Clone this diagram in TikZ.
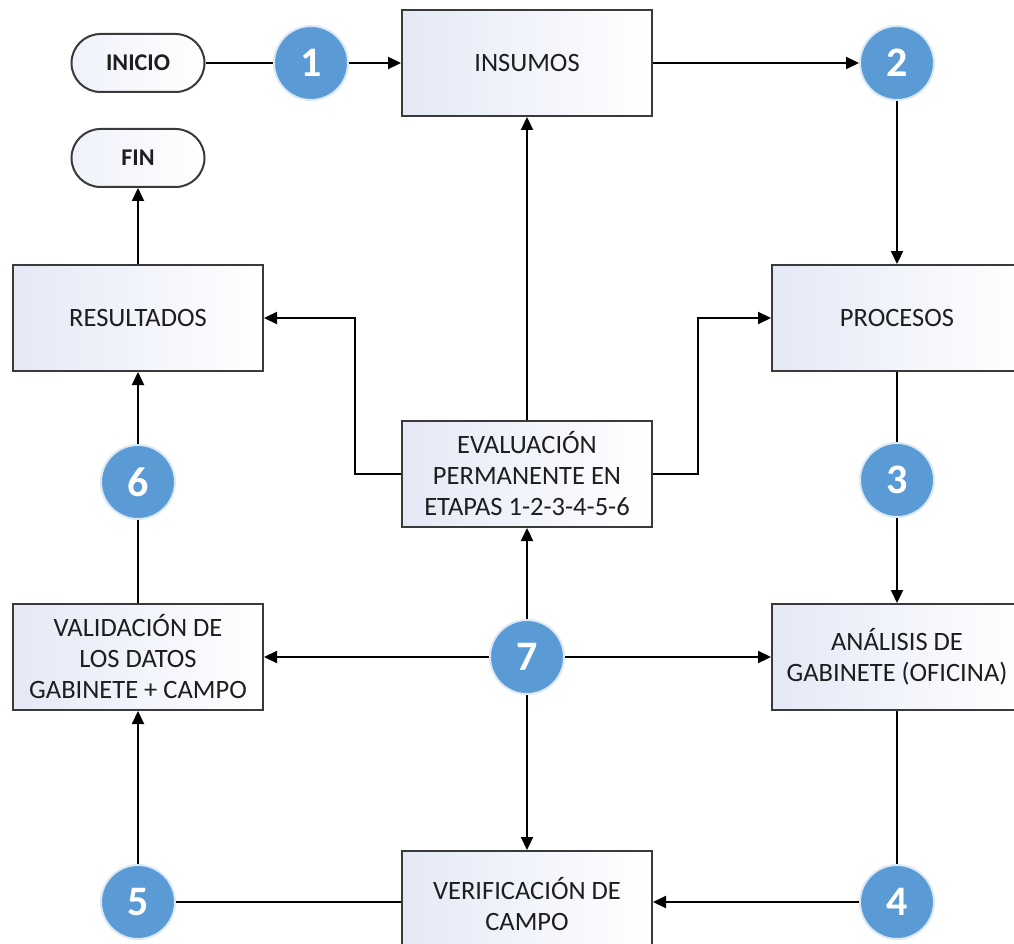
\documentclass[tikz,border=0pt]{standalone}
\usepackage{fontspec}
\setmainfont{Carlito}
\usetikzlibrary{arrows.meta,positioning,calc}
\pgfdeclarelayer{background}
\pgfsetlayers{background,main}
\definecolor{circblue}{HTML}{5B9BD5}
\definecolor{halo}{HTML}{DCE8F5}
\definecolor{boxleft}{HTML}{E4E9F6}
\definecolor{bordergray}{HTML}{3A3A3A}
\definecolor{txt}{HTML}{1E1E1E}
\begin{document}
\begin{tikzpicture}[x=1pt,y=-1pt,
  conn/.style={draw=black, line width=2.2pt},
  arr/.style={conn, -{Triangle[length=13pt,width=12pt]}},
  box/.style={draw=bordergray, line width=2pt, left color=boxleft, right color=white,
    minimum width=250pt, minimum height=106pt, inner sep=0pt, align=center,
    text=txt, font=\fontsize{26.5}{31}\selectfont},
  term/.style={draw=bordergray, line width=2pt, left color=boxleft!60!white, right color=white,
    rounded corners=29pt, minimum width=133pt, minimum height=58pt, inner sep=0pt,
    text=txt, font=\fontsize{24}{28}\selectfont\bfseries},
  num/.style={circle, fill=circblue, draw=halo, line width=2pt, minimum size=74pt, inner sep=0pt,
    text=white, font=\fontsize{42}{42}\selectfont\bfseries}
]
\useasboundingbox (0,0) rectangle (1014,944);

% nodes
\node[term] (ini) at (138,63) {INICIO};
\node[term] (fin) at (138,158) {FIN};
\node[box] (ins) at (527,63) {INSUMOS};
\node[box] (proc) at (897,318) {PROCESOS};
\node[box] (res) at (138,318) {RESULTADOS};
\node[box] (eva) at (527,474) {EVALUACIÓN\\PERMANENTE EN\\ETAPAS 1-2-3-4-5-6};
\node[box] (val) at (138,657) {VALIDACIÓN DE\\LOS DATOS\\GABINETE + CAMPO};
\node[box] (ana) at (897,657) {ANÁLISIS DE\\GABINETE (OFICINA)};
\node[box] (ver) at (527,904) {VERIFICACIÓN DE\\CAMPO};

% numbered circles
\node[num] (c1) at (311,63) {1};
\node[num] (c2) at (897,63) {2};
\node[num] (c3) at (897,480) {3};
\node[num] (c4) at (897,902) {4};
\node[num] (c5) at (138,902) {5};
\node[num] (c6) at (138,482) {6};
\node[num] (c7) at (527,657) {7};

\coordinate (jl) at (355,474);
\coordinate (jr) at (698,474);

\begin{pgfonlayer}{background}
\draw[conn] (ini.east) -- (c1.center);
\draw[arr] (c1) -- (ins.west);
\draw[arr] (ins.east) -- (c2);
\draw[arr] (c2) -- (proc.north);
\draw[conn] (proc.south) -- (c3.center);
\draw[arr] (c3) -- (ana.north);
\draw[conn] (ana.south) -- (c4.center);
\draw[arr] (c4) -- (c4 -| ver.east);
\draw[conn] (c5.center) -- (c5 -| ver.west);
\draw[arr] (c5) -- (val.south);
\draw[conn] (val.north) -- (c6.center);
\draw[arr] (c6) -- (res.south);
\draw[arr] (res.north) -- (fin.south);
\draw[arr] (eva.north) -- (ins.south);
\draw[arr] (eva.west) -- (jl) |- (res.east);
\draw[arr] (eva.east) -- (jr) |- (proc.west);
\draw[arr] (c7) -- (eva.south);
\draw[arr] (c7) -- (val.east);
\draw[arr] (c7) -- (ana.west);
\draw[arr] (c7) -- (ver.north);
\end{pgfonlayer}
\end{tikzpicture}
\end{document}
